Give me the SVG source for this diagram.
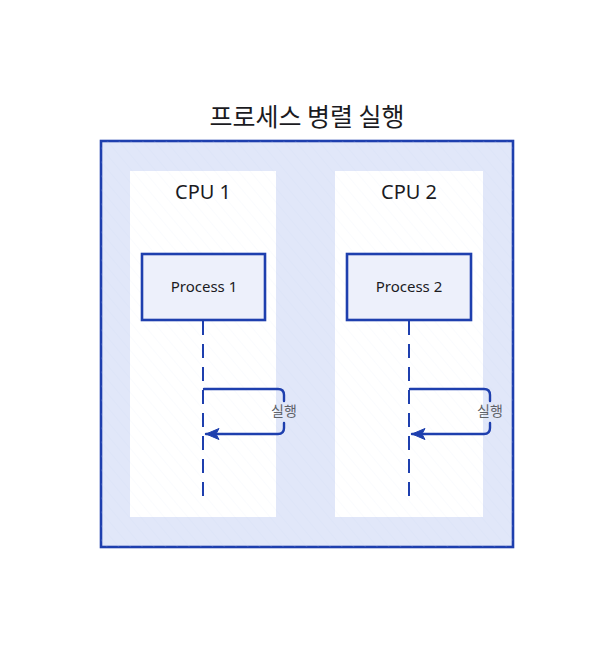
<svg xmlns="http://www.w3.org/2000/svg" width="614" height="648" viewBox="0 0 614 648">
<defs>
<pattern id="hatch" patternUnits="userSpaceOnUse" width="9" height="9" patternTransform="rotate(-40)">
<line x1="0" y1="0" x2="0" y2="9" stroke="#c9d2ee" stroke-width="0.6" opacity="0.5"/>
</pattern>
<marker id="arr" markerWidth="16" markerHeight="14" refX="14" refY="7" orient="auto" markerUnits="userSpaceOnUse">
<path d="M1,1.5 L14,7 L1,12.5 L4,7 Z" fill="#1e3fae" stroke="#1e3fae" stroke-width="1" stroke-linejoin="round"/>
</marker>
<style>
.title{font-family:"Noto Sans CJK KR","Noto Sans",sans-serif;font-size:25px;fill:#1b1b1f;text-anchor:middle;font-weight:400}
.cpu{font-family:"Noto Sans","Liberation Sans",sans-serif;font-size:20px;fill:#1b1b1f;text-anchor:middle}
.proc{font-family:"Noto Sans","Liberation Sans",sans-serif;font-size:15px;fill:#1b1b1f;text-anchor:middle}
.lbl{font-family:"Noto Sans CJK KR",sans-serif;font-size:14px;fill:#5f6368;text-anchor:middle}
.frame{fill:#e1e7f9;stroke:#1e3fae;stroke-width:2.6}
.panel{fill:#ffffff;stroke:none}
.pbox{fill:#edf0fb;stroke:#1e3fae;stroke-width:2.6}
.life{stroke:#1e3fae;stroke-width:2;stroke-dasharray:14,9;fill:none}
.loop{stroke:#1e3fae;stroke-width:2.4;fill:none;stroke-linejoin:round;stroke-linecap:round}
</style>
</defs>
<rect width="614" height="648" fill="#ffffff"/>
<text class="title" x="307" y="126">프로세스 병렬 실행</text>
<g id="frame">
<rect class="frame" x="101" y="141" width="412" height="406"/>
<rect x="101" y="141" width="412" height="406" fill="url(#hatch)"/>
</g>
<g id="cpu1">
<rect class="panel" x="130" y="171" width="146" height="346"/>
<rect x="130" y="171" width="146" height="346" fill="url(#hatch)" opacity="0.6"/>
<text class="cpu" x="203" y="199">CPU 1</text>
</g>
<g id="cpu2">
<rect class="panel" x="335" y="171" width="148" height="346"/>
<rect x="335" y="171" width="148" height="346" fill="url(#hatch)" opacity="0.6"/>
<text class="cpu" x="409" y="199">CPU 2</text>
</g>
<g id="process1">
<rect class="pbox" x="142" y="254" width="123" height="66"/>
<text class="proc" x="204" y="292">Process 1</text>
</g>
<g id="process2">
<rect class="pbox" x="347" y="254" width="124" height="66"/>
<text class="proc" x="409" y="292">Process 2</text>
</g>
<g id="connectors">
<line class="life" x1="203" y1="321" x2="203" y2="501"/>
<line class="life" x1="409" y1="321" x2="409" y2="501"/>
<path class="loop" d="M204,389 L278,389 Q284,389 284,395 L284,401"/>
<path class="loop" d="M284,423 L284,428 Q284,434 278,434 L206,434" marker-end="url(#arr)"/>
<path class="loop" d="M410,389 L484,389 Q490,389 490,395 L490,401"/>
<path class="loop" d="M490,423 L490,428 Q490,434 484,434 L412,434" marker-end="url(#arr)"/>
<text class="lbl" x="284" y="416">실행</text>
<text class="lbl" x="490" y="416">실행</text>
</g>
</svg>
